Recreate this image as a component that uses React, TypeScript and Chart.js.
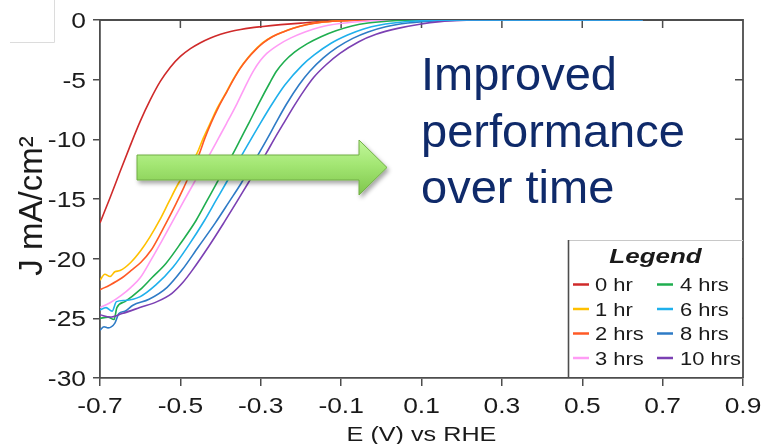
import React, { useEffect, useRef } from "react";
import { Chart, registerables } from "chart.js";

Chart.register(...registerables);

// ---------- data ----------
const SERIES_LABELS = ["0 hr", "1 hr", "2 hrs", "3 hrs", "4 hrs", "6 hrs", "8 hrs", "10 hrs"];
const SERIES_COLORS = ["#cf2a2a", "#ffc000", "#ff5a26", "#ff9cf5", "#1fae4f", "#1fb0ec", "#2e7bc6", "#7b40b3"];
const DRAW_ORDER = [8, 7, 6, 5, 4, 1, 3, 2];

const X_TICKS = [-0.7, -0.5, -0.3, -0.1, 0.1, 0.3, 0.5, 0.7, 0.9];
const Y_TICKS = [0, -5, -10, -15, -20, -25, -30];
const X_TITLE = "E (V) vs RHE";
const Y_TITLE = "J mA/cm²";
const NOTE_LINES = ["Improved", "performance", "over time"];
const LEGEND_TITLE = "Legend";

const E_0HR = [-0.700, -0.675, -0.650, -0.625, -0.600, -0.575, -0.550, -0.525, -0.500, -0.475, -0.450, -0.425, -0.400, -0.375, -0.350, -0.325, -0.300, -0.275, -0.250, -0.200, -0.150, -0.100, -0.050, 0.000, 0.650];
const J_0HR = [-17.0, -14.9, -12.7, -10.55, -8.5, -6.7, -5.15, -3.95, -3.05, -2.4, -1.9, -1.5, -1.2, -0.96, -0.79, -0.66, -0.56, -0.47, -0.39, -0.26, -0.14, -0.06, -0.02, 0, 0];

const E_1HR = [-0.700, -0.688, -0.675, -0.663, -0.650, -0.623, -0.598, -0.576, -0.552, -0.528, -0.505, -0.482, -0.459, -0.443, -0.426, -0.407, -0.385, -0.369, -0.352, -0.333, -0.314, -0.295, -0.272, -0.245, -0.220, -0.188, -0.153, -0.108, -0.028, 0.650];
const J_1HR = [-21.8, -21.3, -21.5, -21.1, -21.0, -20.3, -19.3, -18.2, -16.8, -15.2, -13.7, -12.5, -11.2, -9.9, -8.66, -7.3, -6.0, -5.0, -4.05, -3.2, -2.5, -1.9, -1.4, -1.0, -0.7, -0.4, -0.2, -0.08, 0, 0];

const E_2HR = [-0.700, -0.675, -0.645, -0.623, -0.598, -0.573, -0.551, -0.532, -0.511, -0.491, -0.472, -0.454, -0.439, -0.424, -0.405, -0.384, -0.368, -0.351, -0.332, -0.313, -0.293, -0.271, -0.244, -0.219, -0.186, -0.152, -0.107, -0.028, 0.650];
const J_2HR = [-22.6, -22.2, -21.6, -21.0, -20.3, -19.3, -18.0, -16.8, -15.4, -14.0, -12.6, -11.3, -9.9, -8.66, -7.3, -6.0, -5.0, -4.05, -3.2, -2.5, -1.9, -1.4, -1.0, -0.7, -0.4, -0.2, -0.08, 0, 0];

const E_3HR = [-0.700, -0.675, -0.648, -0.623, -0.600, -0.573, -0.546, -0.518, -0.492, -0.467, -0.446, -0.426, -0.405, -0.385, -0.359, -0.333, -0.317, -0.301, -0.285, -0.257, -0.225, -0.190, -0.153, -0.103, -0.041, 0.046, 0.650];
const J_3HR = [-24.1, -23.7, -23.1, -22.4, -21.6, -20.1, -18.5, -16.8, -15.2, -13.7, -12.4, -11.2, -9.9, -8.66, -7.0, -5.2, -4.2, -3.4, -2.8, -2.1, -1.5, -1.0, -0.6, -0.3, -0.1, 0, 0];

const E_4HR = [-0.700, -0.680, -0.665, -0.658, -0.638, -0.600, -0.571, -0.536, -0.497, -0.461, -0.433, -0.410, -0.389, -0.369, -0.349, -0.329, -0.305, -0.278, -0.261, -0.242, -0.216, -0.185, -0.150, -0.113, -0.073, -0.033, 0.021, 0.109, 0.650];
const J_4HR = [-25.0, -24.9, -25.1, -24.1, -23.6, -22.6, -21.6, -20.4, -18.6, -16.8, -15.1, -13.7, -12.4, -11.2, -9.9, -8.6, -7.0, -5.3, -4.3, -3.5, -2.7, -2.0, -1.4, -0.9, -0.5, -0.25, -0.08, 0, 0];

const E_6HR = [-0.700, -0.685, -0.670, -0.659, -0.638, -0.601, -0.561, -0.518, -0.478, -0.440, -0.411, -0.387, -0.345, -0.300, -0.271, -0.240, -0.197, -0.167, -0.125, -0.084, -0.044, -0.003, 0.059, 0.121, 0.220, 0.650];
const J_6HR = [-24.3, -24.1, -24.4, -23.6, -23.5, -23.2, -22.2, -20.7, -18.8, -16.8, -15.1, -13.7, -11.2, -8.6, -7.0, -5.45, -3.8, -2.93, -1.95, -1.26, -0.75, -0.42, -0.15, -0.04, 0, 0];

const E_8HR = [-0.700, -0.690, -0.680, -0.663, -0.653, -0.638, -0.618, -0.578, -0.533, -0.497, -0.455, -0.413, -0.378, -0.349, -0.326, -0.305, -0.283, -0.262, -0.235, -0.205, -0.178, -0.145, -0.110, -0.071, -0.033, 0.011, 0.066, 0.146, 0.245, 0.650];
const J_8HR = [-26.0, -25.7, -25.8, -25.4, -24.6, -24.4, -23.9, -23.4, -22.4, -21.0, -19.0, -17.0, -15.2, -13.7, -12.4, -11.2, -9.9, -8.6, -7.0, -5.45, -4.3, -3.2, -2.3, -1.54, -1.0, -0.56, -0.25, -0.05, 0, 0];

const E_10HR = [-0.700, -0.675, -0.645, -0.601, -0.558, -0.521, -0.494, -0.471, -0.430, -0.392, -0.359, -0.332, -0.308, -0.287, -0.265, -0.242, -0.217, -0.194, -0.168, -0.138, -0.103, -0.056, -0.013, 0.041, 0.096, 0.146, 0.196, 0.270, 0.650];
const J_10HR = [-24.7, -24.9, -24.6, -24.1, -23.6, -22.9, -22.0, -21.0, -19.0, -17.0, -15.2, -13.7, -12.4, -11.2, -9.9, -8.6, -7.2, -6.0, -4.8, -3.77, -2.8, -1.82, -1.2, -0.7, -0.35, -0.14, -0.04, 0, 0];

const E_SERIES = [E_0HR, E_1HR, E_2HR, E_3HR, E_4HR, E_6HR, E_8HR, E_10HR];
const J_SERIES = [J_0HR, J_1HR, J_2HR, J_3HR, J_4HR, J_6HR, J_8HR, J_10HR];

// ---------- styles ----------
const AXIS = "#4d4d4d";
const TEXT = "#1a1a1a";
const FONT = '"Liberation Sans", Arial, Helvetica, sans-serif';
const W = 764;
const H = 444;

const framePlugin = {
  id: "frame",
  beforeDatasetsDraw(chart: any) {
    const { ctx, chartArea, scales } = chart;
    const { left, right, top, bottom } = chartArea;
    ctx.save();
    ctx.strokeStyle = AXIS;
    ctx.lineWidth = 1.8;
    ctx.beginPath();
    ctx.moveTo(left, top);
    ctx.lineTo(right, top);
    ctx.lineTo(right, bottom);
    ctx.stroke();
    ctx.lineWidth = 1.5;
    ctx.beginPath();
    for (const v of X_TICKS.slice(1, -1)) {
      const px = scales.x.getPixelForValue(v);
      ctx.moveTo(px, top);
      ctx.lineTo(px, top + 8);
    }
    for (const v of Y_TICKS.slice(1, -1)) {
      const py = scales.y.getPixelForValue(v);
      ctx.moveTo(right, py);
      ctx.lineTo(right - 8, py);
    }
    ctx.stroke();
    ctx.restore();
  },
};

const labelPlugin = {
  id: "labels",
  afterDraw(chart: any) {
    const { ctx, chartArea, scales } = chart;
    ctx.save();
    ctx.fillStyle = TEXT;
    ctx.textBaseline = "alphabetic";
    ctx.font = `22px ${FONT}`;
    for (const v of X_TICKS) {
      const px = scales.x.getPixelForValue(v);
      ctx.save();
      ctx.translate(px, chartArea.bottom + 35);
      ctx.scale(1.2, 1);
      ctx.textAlign = "center";
      ctx.fillText(v.toFixed(1), 0, 0);
      ctx.restore();
    }
    for (const v of Y_TICKS) {
      const py = scales.y.getPixelForValue(v);
      ctx.save();
      ctx.translate(chartArea.left - 14, py + 8);
      ctx.scale(1.2, 1);
      ctx.textAlign = "right";
      ctx.fillText(String(v), 0, 0);
      ctx.restore();
    }
    ctx.font = `21px ${FONT}`;
    ctx.save();
    ctx.translate((chartArea.left + chartArea.right) / 2, H - 3);
    ctx.scale(1.2, 1);
    ctx.textAlign = "center";
    ctx.fillText(X_TITLE, 0, 0);
    ctx.restore();
    ctx.font = `33px ${FONT}`;
    ctx.save();
    ctx.translate(42, (chartArea.top + chartArea.bottom) / 2 + 7);
    ctx.rotate(-Math.PI / 2);
    ctx.textAlign = "center";
    ctx.fillText(Y_TITLE, 0, 0);
    ctx.restore();
    ctx.restore();
  },
};

export default function App() {
  const canvasRef = useRef<HTMLCanvasElement | null>(null);

  useEffect(() => {
    const canvas = canvasRef.current;
    if (!canvas) return;
    const datasets = SERIES_LABELS.map((label, i) => ({
      label,
      data: E_SERIES[i].map((e, k) => ({ x: e, y: J_SERIES[i][k] })),
      borderColor: SERIES_COLORS[i],
      backgroundColor: SERIES_COLORS[i],
      borderWidth: 1.6,
      pointRadius: 0,
      fill: false,
      cubicInterpolationMode: "monotone" as const,
      order: DRAW_ORDER[i],
    }));
    const chart = new Chart(canvas, {
      type: "line",
      data: { datasets },
      options: {
        animation: false,
        responsive: false,
        devicePixelRatio: 1,
        events: [],
        layout: { padding: { top: 20, right: 21, left: 0, bottom: 0 } },
        plugins: {
          legend: { display: false },
          tooltip: { enabled: false },
          title: { display: false },
        },
        scales: {
          x: {
            type: "linear",
            min: -0.7,
            max: 0.9,
            afterBuildTicks: (s: any) => {
              s.ticks = X_TICKS.map((v) => ({ value: v }));
            },
            afterFit: (s: any) => {
              s.height = 66;
            },
            ticks: { display: false },
            grid: { display: true, drawOnChartArea: false, drawTicks: true, tickLength: 8, color: AXIS, lineWidth: 1.5 },
            border: { display: true, color: AXIS, width: 1.8 },
          },
          y: {
            type: "linear",
            min: -30,
            max: 0,
            afterBuildTicks: (s: any) => {
              s.ticks = Y_TICKS.map((v) => ({ value: v }));
            },
            afterFit: (s: any) => {
              s.width = 100;
            },
            ticks: { display: false },
            grid: { display: true, drawOnChartArea: false, drawTicks: true, tickLength: 7, color: AXIS, lineWidth: 1.5 },
            border: { display: true, color: AXIS, width: 1.8 },
          },
        },
      } as any,
      plugins: [framePlugin, labelPlugin],
    });
    return () => chart.destroy();
  }, []);

  const rowY = [284.5, 309, 333.5, 358];

  return (
    <div style={{ position: "fixed", left: 0, top: 0, width: W, height: H, background: "#fff", overflow: "hidden" }}>
      <canvas ref={canvasRef} width={W} height={H} style={{ width: W, height: H, display: "block" }} />
      <svg
        width={W}
        height={H}
        style={{ position: "absolute", left: 0, top: 0, pointerEvents: "none" }}
        fontFamily={FONT}
      >
        <defs>
          <linearGradient id="arrowFill" x1="0" y1="0" x2="0" y2="1">
            <stop offset="0" stopColor="#c2f79c" />
            <stop offset="0.45" stopColor="#a3e673" />
            <stop offset="1" stopColor="#7fc64c" />
          </linearGradient>
          <filter id="shadow" x="-10%" y="-30%" width="120%" height="170%">
            <feDropShadow dx="2" dy="3" stdDeviation="2" floodColor="#000" floodOpacity="0.35" />
          </filter>
        </defs>

        {/* faint box top-left */}
        <line x1={54.5} y1={0} x2={54.5} y2={42.5} stroke="#dcdcdc" strokeWidth={1} />
        <line x1={10} y1={42.5} x2={54.5} y2={42.5} stroke="#dcdcdc" strokeWidth={1} />

        {/* arrow */}
        <polygon
          points="137,155 359,155 359,140 387,167.5 359,195 359,180 137,180"
          fill="url(#arrowFill)"
          stroke="#70ad45"
          strokeWidth={1}
          filter="url(#shadow)"
        />

        {/* annotation */}
        {NOTE_LINES.map((t, i) => (
          <text key={t} x={421} y={90 + i * 56.5} fontSize={47} fill="#0f2a6a">
            {t}
          </text>
        ))}

        {/* legend box */}
        <rect x={568} y={240} width={174} height={137} fill="#ffffff" />
        <line x1={568} y1={240.5} x2={743} y2={240.5} stroke="#c8c8c8" strokeWidth={1} />
        <line x1={568.5} y1={240} x2={568.5} y2={378} stroke={AXIS} strokeWidth={1.6} />
        <text
          transform="translate(655.5,263) scale(1.3,1)"
          textAnchor="middle"
          fontSize={20}
          fontWeight="bold"
          fontStyle="italic"
          fill={TEXT}
        >
          {LEGEND_TITLE}
        </text>
        {SERIES_LABELS.map((label, i) => {
          const col = Math.floor(i / 4);
          const row = i % 4;
          const lx = col === 0 ? 573 : 657;
          const tx = col === 0 ? 595 : 680;
          const cy = rowY[row];
          return (
            <g key={label}>
              <line x1={lx} y1={cy} x2={lx + 16} y2={cy} stroke={SERIES_COLORS[i]} strokeWidth={2.5} />
              <text transform={`translate(${tx},${cy + 6.5}) scale(1.22,1)`} fontSize={18} fill={TEXT}>
                {label}
              </text>
            </g>
          );
        })}
      </svg>
    </div>
  );
}
